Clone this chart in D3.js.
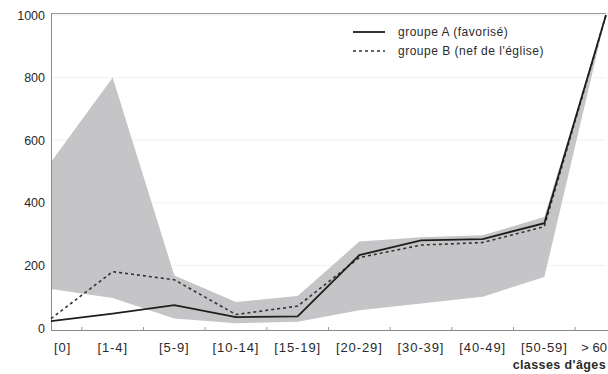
<!DOCTYPE html>
<html><head><meta charset="utf-8">
<script src="https://cdn.jsdelivr.net/npm/d3@7"></script>
<style>body{margin:0;background:#fff}svg{display:block}text{font-family:"Liberation Sans",Arial,sans-serif;fill:#2a2a2a}</style>
</head><body>
<svg id="c" width="608" height="374"></svg>
<script>
const categories = ["[0]","[1-4]","[5-9]","[10-14]","[15-19]","[20-29]","[30-39]","[40-49]","[50-59]","> 60"];
const groupA = [22, 46, 73, 35, 37, 233, 280, 284, 335, 1000];
const groupB = [30, 180, 154, 43, 70, 225, 265, 273, 324, 1000];
const bandUpper = [530, 800, 168, 83, 102, 276, 290, 296, 355, 1000];
const bandLower = [125, 96, 30, 15, 20, 57, 78, 100, 163, 1000];
const yTicks = [0, 200, 400, 600, 800, 1000];
const legendLabels = ["groupe A (favorisé)", "groupe B (nef de l'église)"];
const xTitle = "classes d'âges";

const svg = d3.select("#c");
const x = d3.scalePoint().domain(categories).range([51, 606]);
const y = d3.scaleLinear().domain([0, 1000]).range([328, 15]);

// faint gridlines
svg.append("g").selectAll("line").data(yTicks.slice(1)).join("line")
  .attr("x1", 52).attr("x2", 606).attr("y1", d => y(d)).attr("y2", d => y(d))
  .attr("stroke", "#f1f1f1").attr("stroke-width", 1);

// band
const idx = d3.range(categories.length);
svg.append("path")
  .datum(idx)
  .attr("d", d3.area().x(i => x(categories[i])).y0(i => y(bandLower[i])).y1(i => y(bandUpper[i])))
  .attr("fill", "#c5c5c8");

// frame
svg.append("line").attr("x1", 51).attr("x2", 606).attr("y1", 13.5).attr("y2", 13.5).attr("stroke", "#9a9a9a");
svg.append("line").attr("x1", 51.5).attr("x2", 51.5).attr("y1", 13).attr("y2", 331).attr("stroke", "#8a8a8a");
svg.append("line").attr("x1", 51).attr("x2", 608).attr("y1", 330.5).attr("y2", 330.5).attr("stroke", "#8a8a8a");

// x ticks at boundaries
const step = x.step();
svg.append("g").selectAll("line").data(categories.slice(0, -1)).join("line")
  .attr("x1", d => x(d) + step / 2).attr("x2", d => x(d) + step / 2)
  .attr("y1", 330).attr("y2", 327).attr("stroke", "#999");

// lines
const lineGen = arr => d3.line().x((d, i) => x(categories[i])).y(d => y(d))(arr);
svg.append("path").attr("d", lineGen(groupB)).attr("fill", "none")
  .attr("stroke", "#333").attr("stroke-width", 1.6).attr("stroke-dasharray", "3,3");
svg.append("path").attr("d", lineGen(groupA)).attr("fill", "none")
  .attr("stroke", "#1e1e1e").attr("stroke-width", 1.8);

// y labels
svg.append("g").selectAll("text").data(yTicks).join("text")
  .attr("x", 45).attr("y", d => y(d) + 4.5).attr("text-anchor", "end")
  .attr("font-size", 12.5).text(d => d);

// x labels
const last = categories.length - 1;
svg.append("g").selectAll("text").data(categories).join("text")
  .attr("x", (d, i) => i === 0 ? 54 : (i === last ? 607 : x(d)))
  .attr("y", 352)
  .attr("text-anchor", (d, i) => i === 0 ? "start" : (i === last ? "end" : "middle"))
  .attr("font-size", 13).attr("letter-spacing", (d, i) => i === last ? 0 : 0.9).text(d => d);

svg.append("text").attr("x", 606).attr("y", 369).attr("font-size", 12.5)
  .attr("text-anchor", "end")
  .attr("font-weight", "bold").attr("letter-spacing", 0.4).text(xTitle);

// legend
const lg = svg.append("g");
lg.append("line").attr("x1", 353).attr("x2", 385).attr("y1", 32).attr("y2", 32)
  .attr("stroke", "#1e1e1e").attr("stroke-width", 1.8);
lg.append("line").attr("x1", 353).attr("x2", 385).attr("y1", 51).attr("y2", 51)
  .attr("stroke", "#333").attr("stroke-width", 1.6).attr("stroke-dasharray", "3,3");
lg.selectAll("text").data(legendLabels).join("text")
  .attr("x", 398).attr("y", (d, i) => 36 + i * 19)
  .attr("font-size", 12).attr("letter-spacing", 0.5).text(d => d);
</script>
</body></html>
